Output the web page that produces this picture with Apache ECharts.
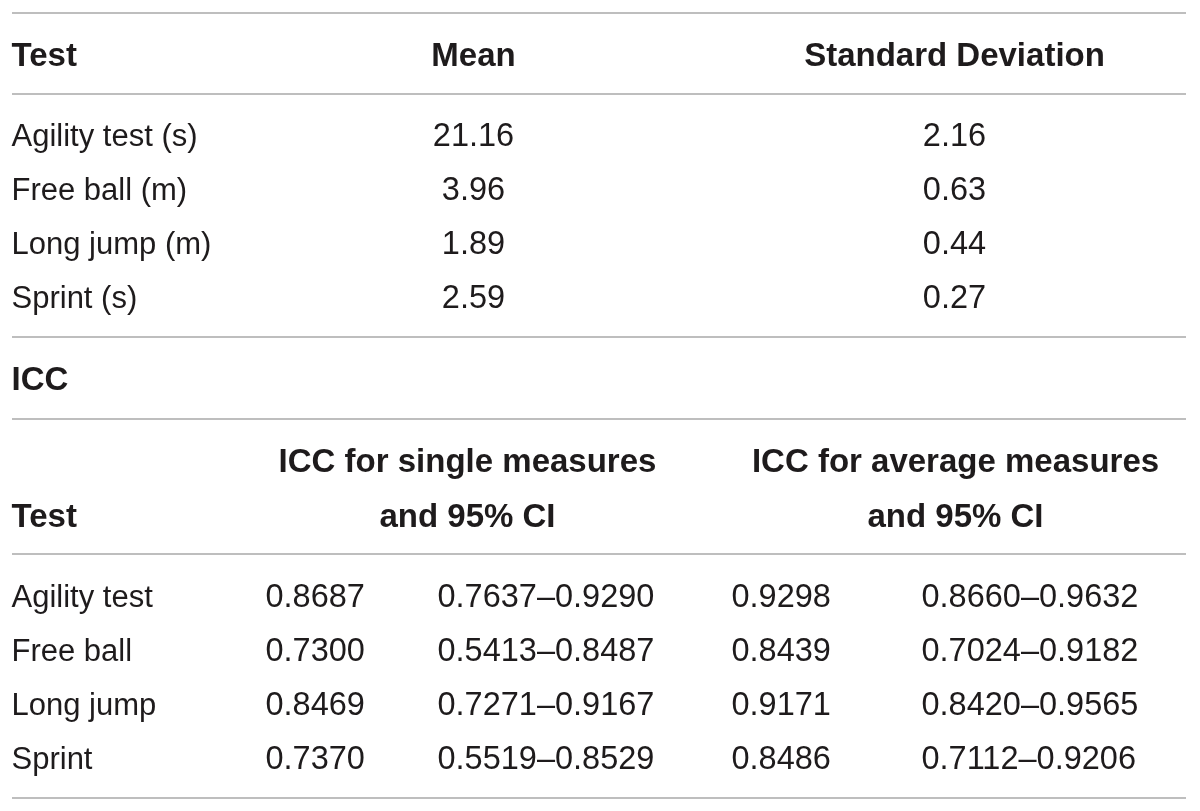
<!DOCTYPE html>
<html>
<head>
<meta charset="utf-8">
<script src="https://cdn.jsdelivr.net/npm/echarts@6/dist/echarts.min.js"></script>
<style>
html,body{margin:0;padding:0;background:#fff;}
#main{width:1200px;height:811px;}
</style>
</head>
<body>
<div id="main"></div>
<script>
// ---- Data ----
const descHeaders = ['Test', 'Mean', 'Standard Deviation'];
const tests = ['Agility test (s)', 'Free ball (m)', 'Long jump (m)', 'Sprint (s)'];
const means = [21.16, 3.96, 1.89, 2.59];
const sds = [2.16, 0.63, 0.44, 0.27];

const iccTitle = 'ICC';
const iccHeaderTest = 'Test';
const iccHeaderSingle = ['ICC for single measures', 'and 95% CI'];
const iccHeaderAvg = ['ICC for average measures', 'and 95% CI'];
const iccTests = ['Agility test', 'Free ball', 'Long jump', 'Sprint'];
const iccSingle = [0.8687, 0.7300, 0.8469, 0.7370];
const iccSingleLo = [0.7637, 0.5413, 0.7271, 0.5519];
const iccSingleHi = [0.9290, 0.8487, 0.9167, 0.8529];
const iccAvg = [0.9298, 0.8439, 0.9171, 0.8486];
const iccAvgLo = [0.8660, 0.7024, 0.8420, 0.7112];
const iccAvgHi = [0.9632, 0.9182, 0.9565, 0.9206];

// ---- Layout (separate from data) ----
const L = {
  width: 1200, height: 811,
  ruleX: [12, 1186],
  rules: [13, 94, 337, 419, 554, 798],
  colName: 12,
  colMean: 474,
  colSD: 955,
  descHeaderY: 57,
  descRow0: 138, rowPitch: 54,
  iccTitleY: 381,
  iccHead1Y: 463, iccHead2Y: 518,
  iccRow0: 599,
  colSingle: 266, colSingleCI: 438, colAvg: 732, colAvgCI: 922,
  colSingleHead: 468, colAvgHead: 956
};
const textColor = '#1e1b1c';
const fontFamily = "'Liberation Sans', Arial, Helvetica, sans-serif";
const textSize = 31, numSize = 32.5, boldSize = 33;

function cell(x, y, text, align, kind) {
  const bold = kind === 'bold';
  return {
    value: [x, y],
    text: text,
    label: {
      align: align,
      fontWeight: bold ? 'bold' : 'normal',
      fontSize: bold ? boldSize : (kind === 'num' ? numSize : textSize)
    }
  };
}
const f2 = v => v.toFixed(2);
const f4 = v => v.toFixed(4);

const cells = [];
// Descriptive table header
cells.push(cell(L.colName, L.descHeaderY, descHeaders[0], 'left', 'bold'));
cells.push(cell(L.colMean, L.descHeaderY, descHeaders[1], 'center', 'bold'));
cells.push(cell(L.colSD, L.descHeaderY, descHeaders[2], 'center', 'bold'));
tests.forEach((t, i) => {
  const y = L.descRow0 + i * L.rowPitch;
  cells.push(cell(L.colName, y, t, 'left', 'text'));
  cells.push(cell(L.colMean, y, f2(means[i]), 'center', 'num'));
  cells.push(cell(L.colSD, y, f2(sds[i]), 'center', 'num'));
});
// ICC
cells.push(cell(L.colName, L.iccTitleY, iccTitle, 'left', 'bold'));
cells.push(cell(L.colSingleHead, L.iccHead1Y, iccHeaderSingle[0], 'center', 'bold'));
cells.push(cell(L.colSingleHead, L.iccHead2Y, iccHeaderSingle[1], 'center', 'bold'));
cells.push(cell(L.colAvgHead, L.iccHead1Y, iccHeaderAvg[0], 'center', 'bold'));
cells.push(cell(L.colAvgHead, L.iccHead2Y, iccHeaderAvg[1], 'center', 'bold'));
cells.push(cell(L.colName, L.iccHead2Y, iccHeaderTest, 'left', 'bold'));
iccTests.forEach((t, i) => {
  const y = L.iccRow0 + i * L.rowPitch;
  cells.push(cell(L.colName, y, t, 'left', 'text'));
  cells.push(cell(L.colSingle, y, f4(iccSingle[i]), 'left', 'num'));
  cells.push(cell(L.colSingleCI, y, f4(iccSingleLo[i]) + '\u2013' + f4(iccSingleHi[i]), 'left', 'num'));
  cells.push(cell(L.colAvg, y, f4(iccAvg[i]), 'left', 'num'));
  cells.push(cell(L.colAvgCI, y, f4(iccAvgLo[i]) + '\u2013' + f4(iccAvgHi[i]), 'left', 'num'));
});

const ruleData = L.rules.map(y => [{ coord: [L.ruleX[0], y] }, { coord: [L.ruleX[1], y] }]);

const chart = echarts.init(document.getElementById('main'), null, { renderer: 'canvas' });
chart.setOption({
  backgroundColor: '#ffffff',
  animation: false,
  tooltip: { show: false },
  grid: { left: 0, right: 0, top: 0, bottom: 0 },
  xAxis: { type: 'value', min: 0, max: L.width, show: false },
  yAxis: { type: 'value', min: 0, max: L.height, inverse: true, show: false },
  series: [
    {
      type: 'scatter',
      silent: true,
      symbolSize: 1,
      itemStyle: { color: 'rgba(0,0,0,0)', opacity: 1 },
      data: cells,
      label: {
        show: true,
        position: [0, 0],
        verticalAlign: 'middle',
        color: textColor,
        opacity: 1,
        fontFamily: fontFamily,
        formatter: p => p.data.text
      },
      emphasis: { disabled: true },
      markLine: {
        silent: true,
        symbol: ['none', 'none'],
        label: { show: false },
        lineStyle: { color: '#a9a9a9', width: 1.5, type: 'solid', opacity: 1 },
        emphasis: { disabled: true },
        data: ruleData
      }
    }
  ]
});
</script>
</body>
</html>
